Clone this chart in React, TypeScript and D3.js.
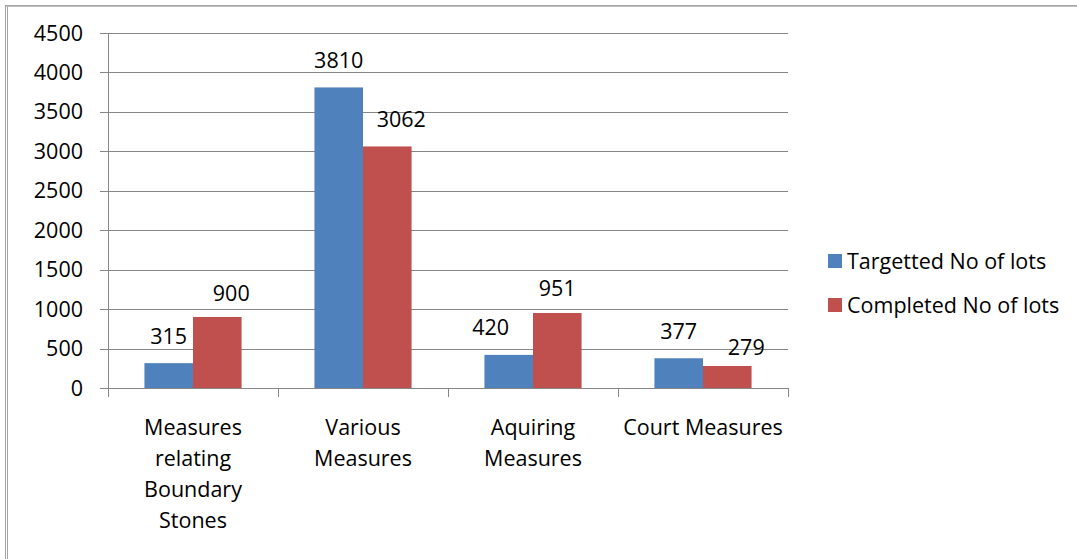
import React from "react";
import * as d3 from "d3";

const categories = ["Measures relating Boundary Stones", "Various Measures", "Aquiring Measures", "Court Measures"];
const categoryLines = [["Measures", "relating", "Boundary", "Stones"], ["Various", "Measures"], ["Aquiring", "Measures"], ["Court Measures"]];
const seriesNames = ["Targetted No of lots", "Completed No of lots"];
const targetted = [315, 3810, 420, 377];
const completed = [900, 3062, 951, 279];
const yTicks = [0, 500, 1000, 1500, 2000, 2500, 3000, 3500, 4000, 4500];
const colors = ["#4F81BD", "#C0504D"];

// label placement nudges (dx, dy in px), per series / category
const labelNudge = [
  [[0, 0], [0, 0], [-18, -1], [0, 0]],
  [[14, 3], [14, 0], [0, 2], [19, 8]],
];

const FONT = "'Open Sans', sans-serif";

export default function App() {
  const W = 1077, H = 559;
  const left = 108, right = 788, top = 33, bottom = 388;
  const x = d3.scaleBand<string>().domain(categories).range([left, right]).paddingInner(0).paddingOuter(0);
  const y = d3.scaleLinear().domain([0, 4500]).range([bottom, top]);
  const bw = x.bandwidth() / 3.5;
  const series = [targetted, completed];
  const fs = 21.5;
  return (
    <div style={{ position: "absolute", left: 0, top: 0 }}>
      <svg width={W} height={H} style={{ display: "block" }}>
        <rect x={0} y={0} width={W} height={H} fill="#fff" />
        <rect x={5.5} y={5.5} width={W + 10} height={H + 10} fill="none" stroke="#a6a6a6" strokeWidth={1} />
        <line x1={7.5} x2={7.5} y1={6} y2={H} stroke="#a6a6a6" />
        <line x1={6} x2={W} y1={6.5} y2={6.5} stroke="#bdbdbd" />
        {yTicks.map((t) => (
          <g key={t}>
            <line x1={100} x2={right} y1={Math.round(y(t)) + 0.5} y2={Math.round(y(t)) + 0.5} stroke="#868686" strokeWidth={1} />
            <text x={83} y={y(t)} dy="0.35em" textAnchor="end" fontFamily={FONT} fontSize={fs} fill="#000">{t}</text>
          </g>
        ))}
        <line x1={left + 0.5} x2={left + 0.5} y1={top} y2={bottom} stroke="#868686" />
        {series.map((vals, si) =>
          vals.map((v, i) => {
            const bx = (x(categories[i]) as number) + bw * 0.75 + si * bw;
            const [ndx, ndy] = labelNudge[si][i];
            return (
              <g key={si + "-" + i}>
                <rect x={bx} y={y(v)} width={bw} height={bottom - y(v)} fill={colors[si]} />
                <text x={bx + bw / 2 + ndx} y={y(v) - 19 + ndy} textAnchor="middle" fontFamily={FONT} fontSize={fs} fill="#000">{v}</text>
              </g>
            );
          })
        )}
        <line x1={left} x2={right} y1={bottom + 0.5} y2={bottom + 0.5} stroke="#868686" />
        {[...categories.map((c) => x(c) as number), right].map((px, i) => (
          <line key={i} x1={Math.round(px) + 0.5} x2={Math.round(px) + 0.5} y1={bottom} y2={bottom + 9} stroke="#868686" />
        ))}
        {categoryLines.map((lines, i) => (
          <text key={i} textAnchor="middle" fontFamily={FONT} fontSize={fs} fill="#000">
            {lines.map((l, j) => (
              <tspan key={j} x={(x(categories[i]) as number) + x.bandwidth() / 2} y={435 + j * 31}>{l}</tspan>
            ))}
          </text>
        ))}
        {seriesNames.map((n, i) => (
          <g key={n}>
            <rect x={828} y={254 + i * 44} width={14} height={14} fill={colors[i]} />
            <text x={847} y={261 + i * 44} dy="0.35em" fontFamily={FONT} fontSize={fs} fill="#000">{n}</text>
          </g>
        ))}
      </svg>
    </div>
  );
}
